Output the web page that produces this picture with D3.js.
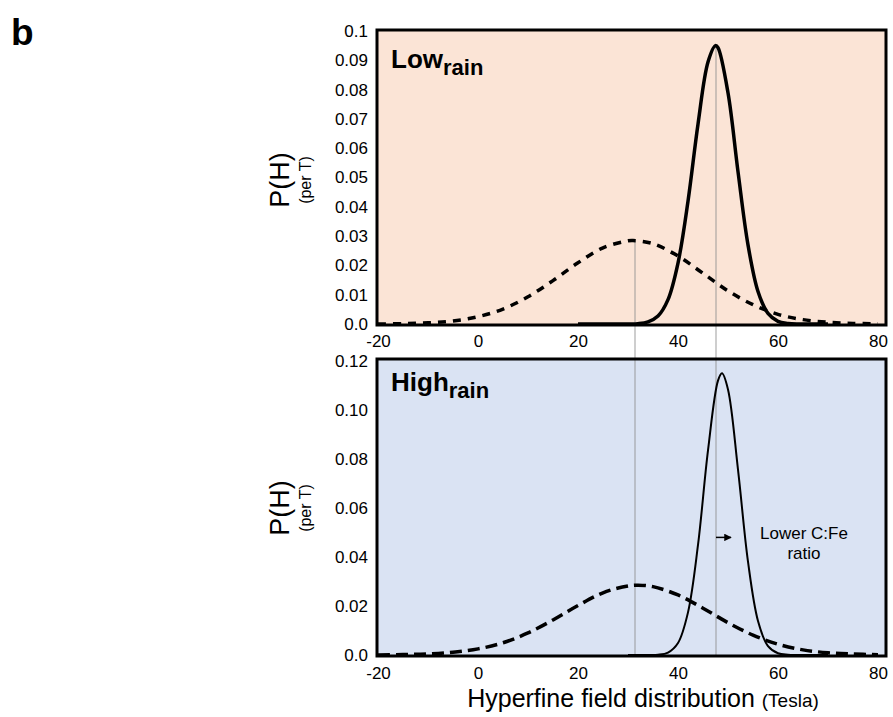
<!doctype html>
<html>
  <head>
    <meta charset="utf-8">
    <title>Hyperfine field distribution</title>
    <script src="https://cdnjs.cloudflare.com/ajax/libs/d3/7.8.5/d3.min.js"></script>
    <style>
      body { margin: 0; background: #fff; }
      text { font-family: "Liberation Sans", Arial, sans-serif; fill: #000; }
    </style>
  </head>
  <body>
    <div id="chart"></div>
    <script>

      // ---- data (field in Tesla, P(H) per T) ----
      const lowDashed = [
        [-20, 0.0000], [-15, 0.0001], [-10, 0.0004], [-5, 0.0010], [0, 0.0025],
        [5, 0.0051], [10, 0.0093], [15, 0.0148], [20, 0.0209], [25, 0.0260],
        [30, 0.0284], [31, 0.0285], [35, 0.0274], [40, 0.0232], [45, 0.0173],
        [50, 0.0113], [55, 0.0066], [60, 0.0033], [65, 0.0015], [70, 0.0006],
        [75, 0.0002], [80, 0.0001]
      ];
      const lowSolid = [
        [20, 0], [30, 0], [32, 0.0001], [34, 0.0007], [36, 0.0027], [38, 0.0083],
        [40, 0.0208], [42, 0.0419], [44, 0.0682], [46, 0.0894], [47.5, 0.0950],
        [48, 0.0943], [50, 0.0789], [52, 0.0520], [54, 0.0270], [56, 0.0111],
        [58, 0.0036], [60, 0.0009], [62, 0.0002], [64, 0], [70, 0]
      ];
      const highDashed = [
        [-20, 0.0000], [-15, 0.0002], [-10, 0.0004], [-5, 0.0011], [0, 0.0025],
        [5, 0.0050], [10, 0.0090], [15, 0.0143], [20, 0.0202], [25, 0.0254],
        [30, 0.0282], [32, 0.0285], [35, 0.0279], [40, 0.0245], [45, 0.0191],
        [50, 0.0132], [55, 0.0081], [60, 0.0044], [65, 0.0021], [70, 0.0009],
        [75, 0.0004], [80, 0.0001]
      ];
      const highSolid = [
        [30, 0], [34, 0], [36, 0.0001], [38, 0.0010], [40, 0.0049], [42, 0.0174],
        [44, 0.0449], [46, 0.0835], [48, 0.1120], [48.8, 0.1150], [50, 0.1084],
        [52, 0.0757], [54, 0.0381], [56, 0.0139], [58, 0.0036], [60, 0.0007],
        [62, 0.0001], [64, 0], [70, 0]
      ];

      // reference lines: field position and the height they start from in the top panel
      const refLines = [[31.4, 0.0285], [47.6, 0.0950]];

      const xTicks = [-20, 0, 20, 40, 60, 80];
      const lowTicks = [0, 0.01, 0.02, 0.03, 0.04, 0.05, 0.06, 0.07, 0.08, 0.09, 0.1];
      const lowTickLabels = ['0.0', '0.01', '0.02', '0.03', '0.04', '0.05', '0.06', '0.07', '0.08', '0.09', '0.1'];
      const highTicks = [0, 0.02, 0.04, 0.06, 0.08, 0.10, 0.12];
      const highTickLabels = ['0.0', '0.02', '0.04', '0.06', '0.08', '0.10', '0.12'];

      const svg = d3.select('#chart')
        .append('svg')
        .attr('width', 893)
        .attr('height', 717);

      const x = d3.scaleLinear().domain([-20, 80]).range([378, 878]);
      const yLow = d3.scaleLinear().domain([0, 0.1]).range([324, 31]);
      const yHigh = d3.scaleLinear().domain([0, 0.12]).range([655, 361]);

      const frameL = 377, frameR = 886;

      // backgrounds
      svg.append('rect')
        .attr('x', frameL).attr('y', 30)
        .attr('width', frameR - frameL).attr('height', 295)
        .attr('fill', '#fbe4d6');
      svg.append('rect')
        .attr('x', frameL).attr('y', 359)
        .attr('width', frameR - frameL).attr('height', 297)
        .attr('fill', '#dae3f3');

      // grey reference lines running through both panels
      svg.selectAll('.ref')
        .data(refLines)
        .join('line')
        .attr('class', 'ref')
        .attr('x1', d => x(d[0])).attr('x2', d => x(d[0]))
        .attr('y1', d => yLow(d[1])).attr('y2', yHigh(0))
        .attr('stroke', '#8f8f8f')
        .attr('stroke-opacity', 0.55)
        .attr('stroke-width', 1.6);

      function curve(data, y, width, dash) {
        const line = d3.line()
          .x(d => x(d[0]))
          .y(d => y(d[1]))
          .curve(d3.curveCatmullRom.alpha(0.5));
        svg.append('path')
          .datum(data)
          .attr('d', line)
          .attr('fill', 'none')
          .attr('stroke', '#000')
          .attr('stroke-width', width)
          .attr('stroke-dasharray', dash);
      }

      curve(lowDashed, yLow, 3.5, '8,7');
      curve(lowSolid, yLow, 3.5, null);
      curve(highDashed, yHigh, 3.5, '12,6');
      curve(highSolid, yHigh, 2, null);

      // frames
      svg.append('rect')
        .attr('x', frameL).attr('y', 30)
        .attr('width', frameR - frameL).attr('height', 295)
        .attr('fill', 'none').attr('stroke', '#000').attr('stroke-width', 3);
      svg.append('rect')
        .attr('x', frameL).attr('y', 359)
        .attr('width', frameR - frameL).attr('height', 297)
        .attr('fill', 'none').attr('stroke', '#000').attr('stroke-width', 3);

      // axes
      function styleAxis(g) {
        g.select('.domain').remove();
        g.selectAll('text')
          .attr('font-size', 17)
          .attr('font-family', '"Liberation Sans", Arial, sans-serif')
          .attr('fill', '#000');
      }

      svg.append('g')
        .attr('transform', 'translate(378,0)')
        .call(d3.axisLeft(yLow).tickValues(lowTicks)
          .tickFormat((d, i) => lowTickLabels[i]).tickSize(0).tickPadding(10))
        .call(styleAxis);
      svg.append('g')
        .attr('transform', 'translate(378,0)')
        .call(d3.axisLeft(yHigh).tickValues(highTicks)
          .tickFormat((d, i) => highTickLabels[i]).tickSize(0).tickPadding(10))
        .call(styleAxis);
      svg.append('g')
        .attr('transform', 'translate(0,328)')
        .call(d3.axisBottom(x).tickValues(xTicks).tickFormat(d => String(d)).tickSize(0).tickPadding(7))
        .call(styleAxis);
      svg.append('g')
        .attr('transform', 'translate(0,659)')
        .call(d3.axisBottom(x).tickValues(xTicks).tickFormat(d => String(d)).tickSize(0).tickPadding(8))
        .call(styleAxis);

      // y titles
      [[yLow, 180], [yHigh, 508]].forEach(([y, cy]) => {
        svg.append('text')
          .attr('transform', `translate(289,${cy}) rotate(-90)`)
          .attr('text-anchor', 'middle')
          .attr('font-size', 27)
          .text('P(H)');
        svg.append('text')
          .attr('transform', `translate(311,${cy}) rotate(-90)`)
          .attr('text-anchor', 'middle')
          .attr('font-size', 16)
          .text('(per T)');
      });

      // x title
      const xt = svg.append('text')
        .attr('x', 643).attr('y', 707)
        .attr('text-anchor', 'middle')
        .attr('font-size', 25);
      xt.append('tspan').text('Hyperfine field distribution ');
      xt.append('tspan').attr('font-size', 19).text('(Tesla)');

      // panel labels
      [['Low', 68], ['High', 391]].forEach(([name, base]) => {
        const t = svg.append('text')
          .attr('x', 391).attr('y', base)
          .attr('font-size', 26)
          .attr('font-weight', 'bold');
        t.append('tspan').text(name);
        t.append('tspan').attr('font-size', 22).attr('dy', 7).text('rain');
      });

      svg.append('text')
        .attr('x', 11).attr('y', 45)
        .attr('font-size', 37)
        .attr('font-weight', 'bold')
        .text('b');

      // annotation arrow
      svg.append('defs').append('marker')
        .attr('id', 'head')
        .attr('viewBox', '0 0 10 10')
        .attr('refX', 9).attr('refY', 5)
        .attr('markerWidth', 5).attr('markerHeight', 5)
        .attr('orient', 'auto')
        .append('path')
        .attr('d', 'M0,0 L10,5 L0,10 z')
        .attr('fill', '#000');
      svg.append('line')
        .attr('x1', x(47.6)).attr('x2', x(50.6))
        .attr('y1', yHigh(0.048)).attr('y2', yHigh(0.048))
        .attr('stroke', '#000').attr('stroke-width', 1.5)
        .attr('marker-end', 'url(#head)');

      const note = svg.append('text')
        .attr('x', x(65.2)).attr('y', 539)
        .attr('text-anchor', 'middle')
        .attr('font-size', 17);
      note.append('tspan').attr('x', x(65.2)).text('Lower C:Fe');
      note.append('tspan').attr('x', x(65.2)).attr('dy', 20).text('ratio');

    </script>
  </body>
</html>
